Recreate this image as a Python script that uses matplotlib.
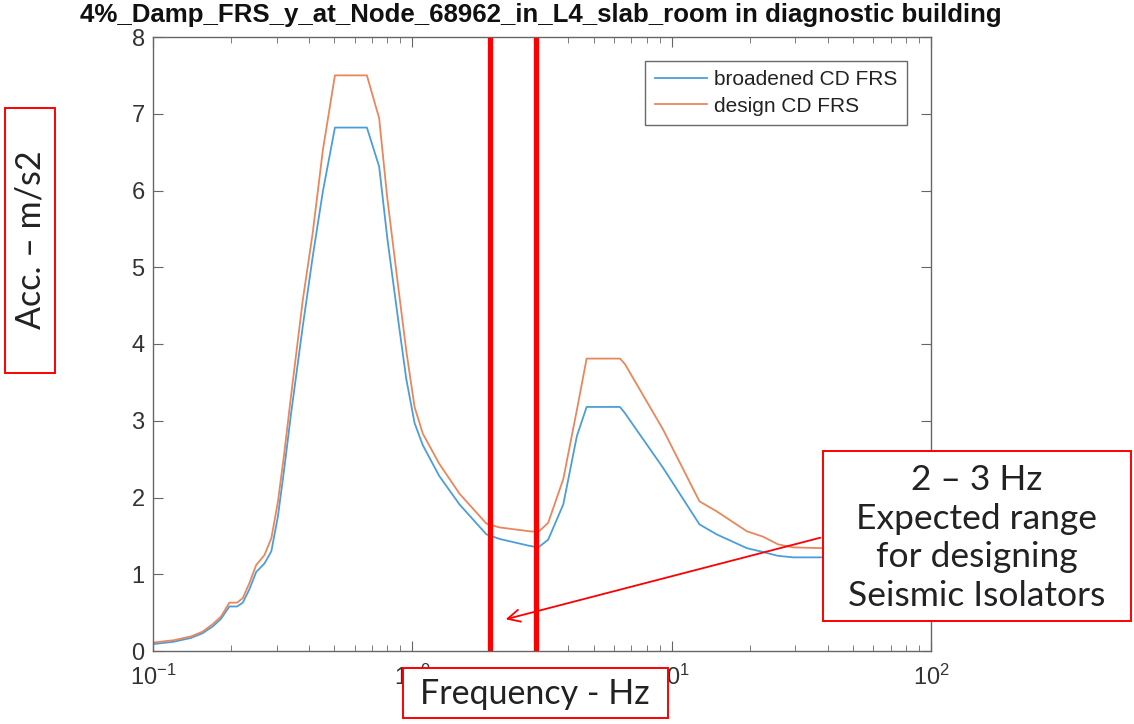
import matplotlib
matplotlib.use('Agg')
import matplotlib.pyplot as plt
from matplotlib.patches import Rectangle, FancyArrowPatch
from matplotlib.ticker import LogLocator, NullFormatter

# ---- data ----
freq = [0.10, 0.12, 0.14, 0.155, 0.17, 0.183, 0.197, 0.211, 0.222, 0.235,
        0.25, 0.269, 0.286, 0.303, 0.32, 0.34, 0.378, 0.413, 0.452, 0.503,
        0.668, 0.745, 0.80, 0.879, 0.947, 1.02, 1.098, 1.27, 1.52, 1.93,
        2.17, 2.83, 3.06, 3.34, 3.82, 4.31, 4.70, 6.32, 6.6, 9.25,
        12.8, 14.9, 19.5, 22.5, 25.7, 29.4, 37.8, 60, 100]
design = [0.11, 0.14, 0.19, 0.25, 0.35, 0.45, 0.63, 0.63, 0.69, 0.88,
          1.12, 1.25, 1.47, 1.94, 2.55, 3.30, 4.57, 5.45, 6.53, 7.50,
          7.50, 6.94, 5.91, 4.79, 3.92, 3.18, 2.83, 2.44, 2.05, 1.66,
          1.61, 1.56, 1.55, 1.67, 2.24, 3.14, 3.81, 3.81, 3.74, 2.89,
          1.95, 1.82, 1.56, 1.49, 1.39, 1.35, 1.34, 1.33, 1.33]
broadened = [0.09, 0.12, 0.17, 0.23, 0.32, 0.42, 0.58, 0.58, 0.63, 0.80,
             1.03, 1.14, 1.30, 1.75, 2.35, 3.07, 4.23, 5.14, 5.99, 6.82,
             6.82, 6.31, 5.39, 4.35, 3.55, 2.97, 2.68, 2.28, 1.91, 1.52,
             1.46, 1.37, 1.35, 1.45, 1.91, 2.80, 3.18, 3.18, 3.10, 2.39,
             1.65, 1.52, 1.34, 1.29, 1.24, 1.22, 1.22, 1.21, 1.21]
isolator_range = [2, 3]
series_labels = ['broadened CD FRS', 'design CD FRS']
title = '4%_Damp_FRS_y_at_Node_68962_in_L4_slab_room in diagnostic building'
xlabel = 'Frequency - Hz'
ylabel = 'Acc. \u2013 m/s2'
note = '2 \u2013 3 Hz\nExpected range\nfor designing\nSeismic Isolators'

BLUE = '#4C9ED9'
ORANGE = '#E9875C'
RED = '#FF0000'
W, H = 1134, 724

plt.rcParams['font.family'] = ['Liberation Sans', 'DejaVu Sans']

fig = plt.figure(figsize=(W / 100, H / 100), dpi=100)
L, R, T, B = 153, 931, 37, 651
ax = fig.add_axes([L / W, 1 - B / H, (R - L) / W, (B - T) / H])

ax.plot(freq, broadened, color=BLUE, lw=1.3, label=series_labels[0])
ax.plot(freq, design, color=ORANGE, lw=1.3, label=series_labels[1])
for f in isolator_range:
    ax.axvline(f, ymin=0, ymax=0.995, color=RED, lw=3.8, zorder=3)

ax.set_xscale('log')
ax.set_xlim(0.1, 100)
ax.set_ylim(0, 8)
ax.set_yticks(range(0, 9))
ax.xaxis.set_minor_locator(LogLocator(base=10, subs=range(2, 10)))
ax.xaxis.set_minor_formatter(NullFormatter())

for s in ax.spines.values():
    s.set_color('#666666')
    s.set_linewidth(1.0)
ax.tick_params(which='both', direction='in', top=True, right=True,
               color='#666666', labelcolor='#333333', labelsize=17)
ax.tick_params(which='major', length=7)
ax.tick_params(which='minor', length=4)
ax.tick_params(axis='x', pad=10)
ax.tick_params(axis='y', pad=6)

leg = ax.legend(loc='upper right', bbox_to_anchor=(0.969, 0.961), borderaxespad=0,
                fontsize=15, frameon=True, fancybox=False, handlelength=2.5,
                labelcolor='#222222', borderpad=0.45, labelspacing=0.35,
                handletextpad=0.35)
leg.get_frame().set_edgecolor('#444444')
leg.get_frame().set_linewidth(1.0)

fig.text(541 / W, 1 - 15 / H, title, ha='center', va='center',
         fontsize=18.6, fontweight='bold', color='#111111')

label_font = ['Lato', 'DejaVu Sans']

def fig_box(x0, y0, x1, y1):
    r = Rectangle((x0 / W, 1 - y1 / H), (x1 - x0) / W, (y1 - y0) / H,
                  transform=fig.transFigure, facecolor='white',
                  edgecolor=RED, lw=1.4, zorder=5)
    fig.patches.append(r)

# y label box
fig_box(5, 108, 55, 373)
fig.text(31 / W, 1 - 240 / H, ylabel, rotation=90, ha='center', va='center',
         fontsize=24.5, family=label_font, color='#222222', zorder=6)

# x label box
fig_box(403, 668, 668, 718)
fig.text(535 / W, 1 - 694 / H, xlabel, ha='center', va='center',
         fontsize=24.5, family=label_font, color='#222222', zorder=6)

# arrow
arr = FancyArrowPatch((823 / W, 1 - 537 / H), (503 / W, 1 - 620 / H),
                      transform=fig.transFigure, arrowstyle='->',
                      mutation_scale=22, color=RED, lw=1.3, zorder=4)
fig.patches.append(arr)

# annotation box
fig_box(823, 451, 1131, 621)
fig.text(977 / W, 1 - 538 / H, note, ha='center', va='center',
         fontsize=25.5, family=label_font, color='#222222',
         linespacing=1.25, zorder=6)

fig.savefig('out.png', dpi=100)
